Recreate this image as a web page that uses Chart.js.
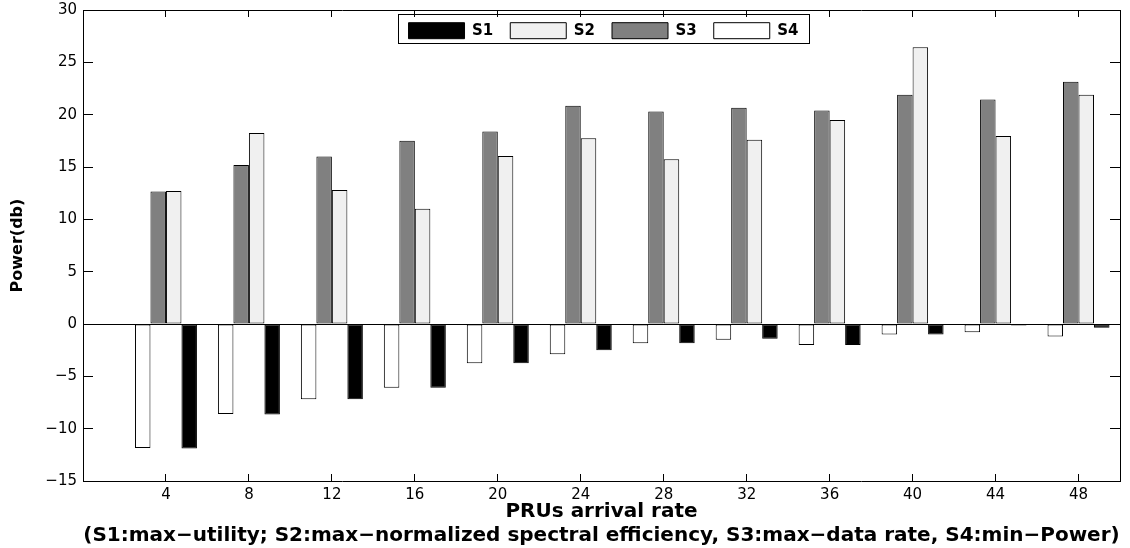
<!DOCTYPE html>
<html>
<head>
<meta charset="utf-8">
<script src="https://cdn.jsdelivr.net/npm/chart.js@4.4.1/dist/chart.umd.min.js"></script>
<style>
html,body{margin:0;padding:0;background:#fff;}
canvas{display:block;}
</style>
</head>
<body>
<canvas id="c" width="1130" height="548"></canvas>
<script>
// ---- data ----
const categories = [4, 8, 12, 16, 20, 24, 28, 32, 36, 40, 44, 48];
const s1Values = [-11.9, -8.65, -7.2, -6.1, -3.75, -2.5, -1.85, -1.4, -2.0, -1.0, -0.15, -0.35];
const s2Values = [12.7, 18.25, 12.8, 11.0, 16.05, 17.75, 15.75, 17.6, 19.5, 26.45, 17.95, 21.9];
const s3Values = [12.65, 15.2, 16.0, 17.5, 18.4, 20.85, 20.3, 20.65, 20.4, 21.9, 21.45, 23.15];
const s4Values = [-11.85, -8.6, -7.2, -6.1, -3.75, -2.9, -1.85, -1.5, -2.0, -1.0, -0.8, -1.2];
const yTickValues = [-15, -10, -5, 0, 5, 10, 15, 20, 25, 30];
const seriesNames = ['S1', 'S2', 'S3', 'S4'];
const xTitleLines = ['PRUs arrival rate',
  '(S1:max\u2212utility; S2:max\u2212normalized spectral efficiency, S3:max\u2212data rate, S4:min\u2212Power)'];
const yTitleText = 'Power(db)';

// ---- helpers ----
const toPoints = arr => categories.map((x, i) => ({x: x, y: arr[i]}));
const fmtTick = v => (v < 0 ? '\u2212' + Math.abs(v) : String(v));
const setXTicks = s => { s.ticks = categories.map(v => ({value: v})); };
const setYTicks = s => { s.ticks = yTickValues.map(v => ({value: v})); };
const noPad = s => { s.paddingTop = 0; s.paddingBottom = 0; s.paddingLeft = 0; s.paddingRight = 0; };

Chart.defaults.font.family = "'DejaVu Sans', sans-serif";
Chart.defaults.color = '#000';

const barCommon = {
  borderColor: '#000',
  borderWidth: 1,
  borderSkipped: false,
  categoryPercentage: 0.747,
  barPercentage: 1.0,
  xAxisID: 'x',
  yAxisID: 'y'
};

// Legend frame + placement inside the plot (like MATLAB legend)
const legendFrame = {
  id: 'legendFrame',
  afterLayout(chart) {
    const L = chart.legend;
    if (!L) return;
    const ca = chart.chartArea;
    const dx = (ca.left + ca.right) / 2 + 2 - (L.left + L.right) / 2;
    const dy = 5.7 - L.top;
    L.left += dx; L.right += dx; L.top += dy; L.bottom += dy;
  },
  afterDraw(chart) {
    const L = chart.legend;
    if (!L || !L.legendHitBoxes || !L.legendHitBoxes.length) return;
    const hb = L.legendHitBoxes;
    const last = hb[hb.length - 1];
    const l = hb[0].left - 11;
    const r = last.left + last.width + 10;
    const t = hb[0].top - 8.5;
    const b = hb[0].top + hb[0].height + 4.5;
    const ctx = chart.ctx;
    ctx.save();
    ctx.strokeStyle = '#000';
    ctx.lineWidth = 1;
    ctx.strokeRect(Math.round(l) + 0.5, Math.round(t) + 0.5, Math.round(r - l), Math.round(b - t));
    ctx.restore();
  }
};

new Chart(document.getElementById('c'), {
  type: 'bar',
  data: {
    datasets: [
      Object.assign({label: seriesNames[3], data: toPoints(s4Values), backgroundColor: '#ffffff'}, barCommon),
      Object.assign({label: seriesNames[2], data: toPoints(s3Values), backgroundColor: '#808080'}, barCommon),
      Object.assign({label: seriesNames[1], data: toPoints(s2Values), backgroundColor: '#f0f0f0'}, barCommon),
      Object.assign({label: seriesNames[0], data: toPoints(s1Values), backgroundColor: '#000000'}, barCommon)
    ]
  },
  options: {
    responsive: false,
    devicePixelRatio: 1,
    animation: false,
    events: [],
    layout: {padding: {top: -33, right: 10, bottom: 0, left: 0}},
    plugins: {
      tooltip: {enabled: false},
      legend: {
        display: true,
        position: 'top',
        align: 'center',
        labels: {
          boxWidth: 56,
          boxHeight: 16,
          padding: 17,
          color: '#000',
          font: {size: 15, weight: 'bold'},
          sort: (a, b) => b.datasetIndex - a.datasetIndex
        }
      }
    },
    scales: {
      x: {
        type: 'linear', position: 'bottom', min: 0, max: 50, offset: false,
        afterBuildTicks: setXTicks,
        grid: {drawOnChartArea: false, tickLength: -7, tickColor: '#000', offset: false},
        border: {color: '#000', width: 1},
        ticks: {color: '#000', font: {size: 15}, padding: 12, maxRotation: 0, autoSkip: false,
                callback: v => String(v)},
        title: {display: true, text: xTitleLines, color: '#000',
                font: {size: 20, weight: 'bold', lineHeight: 24 / 20}, padding: {top: 0, bottom: 0}},
        afterFit: s => { s.height = 67; noPad(s); }
      },
      x2: {
        type: 'linear', position: 'top', min: 0, max: 50, offset: false,
        afterBuildTicks: setXTicks,
        grid: {drawOnChartArea: false, tickLength: -7, tickColor: '#000', offset: false},
        border: {color: '#000', width: 1},
        ticks: {display: false},
        afterFit: s => { s.height = 0; noPad(s); }
      },
      y: {
        type: 'linear', position: 'left', min: -15, max: 30,
        afterBuildTicks: setYTicks,
        grid: {
          color: c => (c.tick && c.tick.value === 0) ? '#000' : 'rgba(0,0,0,0)',
          tickColor: '#000', tickLength: -10
        },
        border: {color: '#000', width: 1},
        ticks: {color: '#000', font: {size: 15}, padding: 16, callback: v => fmtTick(v)},
        title: {display: true, text: yTitleText, color: '#000',
                font: {size: 16, weight: 'bold'}, padding: {top: 8.4, bottom: 0}},
        afterFit: s => { s.width = 83; noPad(s); }
      },
      y2: {
        type: 'linear', position: 'right', min: -15, max: 30,
        afterBuildTicks: setYTicks,
        grid: {drawOnChartArea: false, tickColor: '#000', tickLength: -10},
        border: {color: '#000', width: 1},
        ticks: {display: false},
        afterFit: s => { s.width = 0; noPad(s); }
      }
    }
  },
  plugins: [legendFrame]
});
</script>
</body>
</html>
